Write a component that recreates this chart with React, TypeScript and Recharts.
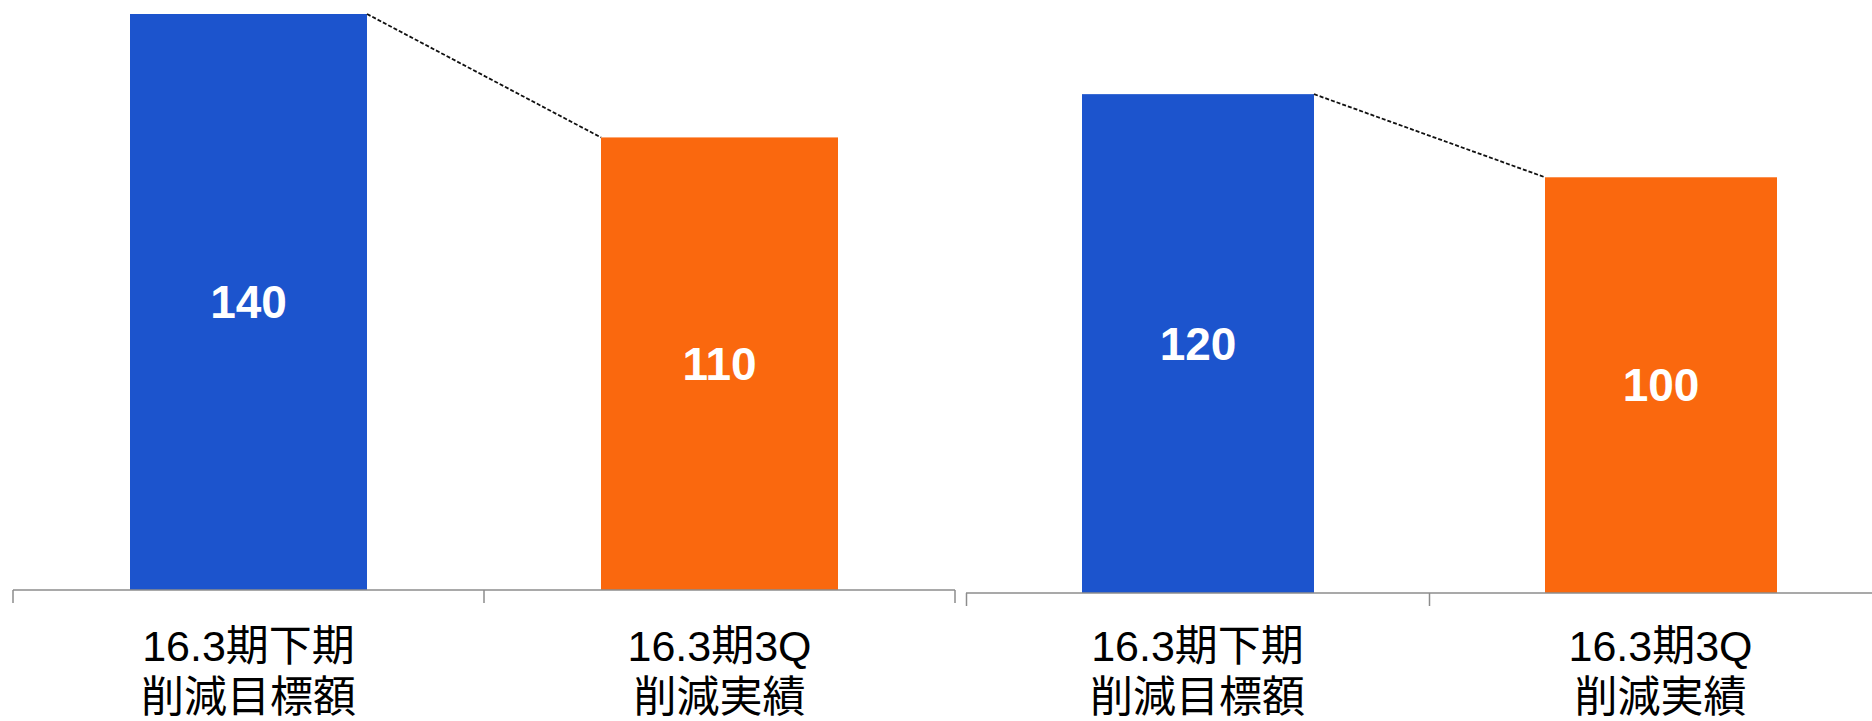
import React from 'react';
import { BarChart, Bar, XAxis, YAxis, Cell, LabelList } from 'recharts';

const periodLabels = ['16.3期下期', '16.3期3Q'];
const metricLabels = ['削減目標額', '削減実績'];
const leftValues = [140, 110];
const rightValues = [120, 100];
const barColors = ['#1c54cd', '#fa680e'];

const FONT = "'Liberation Sans', Arial, 'Noto Sans CJK JP', sans-serif";
const AXIS_GRAY = '#8c8c8c';
const TICK_LEN = 13;

// draws the bar; the second bar also gets the dashed connector back to the first bar
// and the category boundary ticks under the axis
function makeBarShape() {
  let prev: { x: number; y: number; cx: number } | null = null;
  return (props: any) => {
    const { x, y, width, height, fill, index } = props;
    const rect = <rect x={x} y={y} width={width} height={height} fill={fill} />;
    const cx = x + width / 2;
    if (index === 0) {
      prev = { x: x + width, y, cx };
      return rect;
    }
    if (!prev) return rect;
    const half = (cx - prev.cx) / 2;
    const base = y + height;
    const edges = [prev.cx - half, prev.cx + half, cx + half];
    return (
      <g>
        {rect}
        <line x1={prev.x} y1={prev.y} x2={x} y2={y} stroke="#111" strokeWidth={1.8} strokeDasharray="4 2" />
        {edges.map((ex, i) => (
          <line key={i} x1={ex} y1={base} x2={ex} y2={base + TICK_LEN} stroke={AXIS_GRAY} strokeWidth={1.5} />
        ))}
      </g>
    );
  };
}

const leftShape = makeBarShape();
const rightShape = makeBarShape();

function CategoryTick(props: any) {
  const { x, y, payload, firstDy } = props;
  const i = payload.index;
  return (
    <text x={x} y={y} textAnchor="middle" fill="#000" fontSize={43} fontFamily={FONT}>
      <tspan x={x} dy={firstDy}>{periodLabels[i]}</tspan>
      <tspan x={x} dy={51}>{metricLabels[i]}</tspan>
    </text>
  );
}

interface PanelProps {
  values: number[];
  left: number;
  width: number;
  margin: { top: number; left: number; right: number; bottom: number };
  catHeight: number;
  barSize: number;
  labelDy: number;
  shape: (p: any) => React.ReactElement;
}

function Panel({ values, left, width, margin, catHeight, barSize, labelDy, shape }: PanelProps) {
  const data = values.map((v, i) => ({ name: periodLabels[i], value: v }));
  return (
    <div style={{ position: 'absolute', left, top: 0 }}>
      <BarChart width={width} height={721} data={data} margin={margin} barSize={barSize}>
        <XAxis
          xAxisId={0}
          type="number"
          domain={[0, 2]}
          allowDataOverflow
          tick={false}
          tickLine={false}
          height={TICK_LEN}
          axisLine={{ stroke: AXIS_GRAY, strokeWidth: 1.5 }}
        />
        <XAxis
          xAxisId={1}
          dataKey="name"
          height={catHeight}
          axisLine={false}
          tickLine={false}
          tickSize={0}
          tickMargin={0}
          interval={0}
          tick={<CategoryTick firstDy={labelDy} />}
        />
        <YAxis hide domain={[0, 140]} />
        <Bar xAxisId={1} dataKey="value" isAnimationActive={false} shape={shape}>
          {values.map((_, i) => (
            <Cell key={i} fill={barColors[i]} />
          ))}
          <LabelList
            dataKey="value"
            position="center"
            fill="#fff"
            fontSize={46}
            fontWeight="bold"
            fontFamily={FONT}
          />
        </Bar>
      </BarChart>
    </div>
  );
}

export default function App() {
  return (
    <div style={{ position: 'fixed', left: 0, top: 0, width: 1872, height: 721, overflow: 'hidden', background: '#fff' }}>
      <Panel
        values={leftValues}
        left={0}
        width={970}
        margin={{ top: 14, left: 13, right: 15, bottom: 0 }}
        catHeight={118}
        barSize={237}
        labelDy={58}
        shape={leftShape}
      />
      <Panel
        values={rightValues}
        left={960}
        width={932}
        margin={{ top: 11, left: 6, right: 0, bottom: 0 }}
        catHeight={115}
        barSize={232}
        labelDy={55}
        shape={rightShape}
      />
    </div>
  );
}
